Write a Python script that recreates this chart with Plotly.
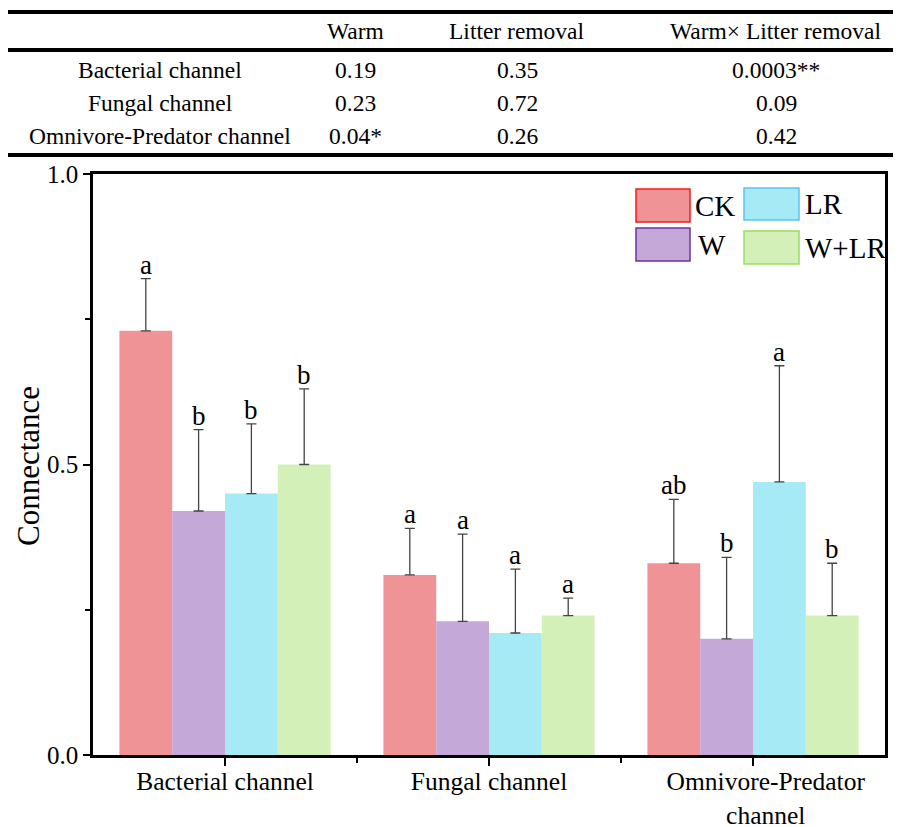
import plotly.graph_objects as go

categories = ["Bacterial channel", "Fungal channel", "Omnivore-Predator channel"]
cat_labels = ["Bacterial channel", "Fungal channel",
              "&nbsp;&nbsp;&nbsp;&nbsp;Omnivore-Predator<br>&nbsp;&nbsp;&nbsp;&nbsp;channel"]
series_names = ["CK", "W", "LR", "W+LR"]
ck = [0.73, 0.31, 0.33]
w = [0.42, 0.23, 0.20]
lr = [0.45, 0.21, 0.47]
wlr = [0.50, 0.24, 0.24]
ck_upper = [0.82, 0.39, 0.44]
w_upper = [0.56, 0.38, 0.34]
lr_upper = [0.57, 0.32, 0.67]
wlr_upper = [0.63, 0.27, 0.33]
ck_letters = ["a", "a", "ab"]
w_letters = ["b", "a", "b"]
lr_letters = ["b", "a", "a"]
wlr_letters = ["b", "a", "b"]

table_header = ["Warm", "Litter removal", "Warm× Litter removal"]
table_rows = ["Bacterial channel", "Fungal channel", "Omnivore-Predator channel"]
warm_p = ["0.19", "0.23", "0.04*"]
litter_p = ["0.35", "0.72", "0.26"]
inter_p = ["0.0003**", "0.09", "0.42"]

fills = ["#F09397", "#C4A8D8", "#A6EAF5", "#D3F0B8"]
borders = ["#F21D1D", "#7030A0", "#5CC4F2", "#99DE5E"]

values = [ck, w, lr, wlr]
uppers = [ck_upper, w_upper, lr_upper, wlr_upper]
letters = [ck_letters, w_letters, lr_letters, wlr_letters]

W, H = 900, 827
L, R, T, B = 93, 885, 174, 755
FONT = "Liberation Serif, Times New Roman, serif"


def px(x):
    return (x - L) / (R - L)


def py(y):
    return (B - y) / (B - T)


fig = go.Figure()
for i, name in enumerate(series_names):
    err = [u - v for u, v in zip(uppers[i], values[i])]
    fig.add_trace(go.Bar(
        x=categories, y=values[i], name=name,
        marker=dict(color=fills[i], line=dict(width=0)),
        error_y=dict(type="data", array=err, arrayminus=[0] * len(err), symmetric=False,
                     color="#444444", thickness=1.3, width=5),
        showlegend=False,
    ))

bar_px = 0.2 * (R - L) / 3.0
annotations = []
for i in range(4):
    for j, c in enumerate(categories):
        annotations.append(dict(
            x=c, y=uppers[i][j], xref="x", yref="y", text=letters[i][j],
            showarrow=False, xanchor="center", yanchor="bottom", xshift=(i - 1.5) * bar_px, yshift=-3,
            font=dict(family=FONT, size=27, color="black")))

# custom legend
leg_boxes = [(636, 189, 690, 222), (636, 228, 690, 261), (744, 188, 799, 220), (744, 231, 799, 264)]
leg_text_x = [693, 696, 803, 803]
shapes = []
for k in range(4):
    x0, y0, x1, y1 = leg_boxes[k]
    shapes.append(dict(type="rect", xref="paper", yref="paper", x0=px(x0), x1=px(x1), y0=py(y0), y1=py(y1),
                       fillcolor=fills[k], line=dict(color=borders[k], width=1.5)))
    annotations.append(dict(x=px(leg_text_x[k]), y=py((y0 + y1) / 2), xref="paper", yref="paper",
                            text=series_names[k], showarrow=False, xanchor="left", yanchor="middle",
                            font=dict(family=FONT, size=29, color="black")))

# table lines
for ly in [12, 50, 155]:
    shapes.append(dict(type="line", xref="paper", yref="paper", x0=px(8), x1=px(893), y0=py(ly), y1=py(ly),
                       line=dict(color="black", width=4)))

TFS = 23.5
col_x = [355, 517, 776]
for cx, h in zip(col_x, table_header):
    annotations.append(dict(x=px(cx), y=py(31), xref="paper", yref="paper", text=h, showarrow=False,
                            xanchor="center", yanchor="middle",
                            font=dict(family=FONT, size=TFS, color="black")))
row_y = [70, 103, 136]
for r, name in enumerate(table_rows):
    annotations.append(dict(x=px(160), y=py(row_y[r]), xref="paper", yref="paper", text=name, showarrow=False,
                            xanchor="center", yanchor="middle",
                            font=dict(family=FONT, size=TFS, color="black")))
    for cx, col in zip(col_x, [warm_p, litter_p, inter_p]):
        annotations.append(dict(x=px(cx), y=py(row_y[r]), xref="paper", yref="paper", text=col[r],
                                showarrow=False, xanchor="center", yanchor="middle",
                                font=dict(family=FONT, size=TFS, color="black")))

# y-axis title
annotations.append(dict(x=px(28), y=py(466), xref="paper", yref="paper", text="Connectance",
                        showarrow=False, textangle=-90, xanchor="center", yanchor="middle",
                        font=dict(family=FONT, size=31, color="black")))

fig.update_layout(
    template="none",
    width=W, height=H,
    margin=dict(l=L, r=W - R, t=T, b=H - B, pad=0),
    paper_bgcolor="white", plot_bgcolor="white",
    barmode="group", bargap=0.2, bargroupgap=0,
    font=dict(family=FONT, color="black"),
    annotations=annotations, shapes=shapes,
    showlegend=False,
)
fig.update_xaxes(
    automargin=False,
    range=[-0.5, 2.5], tickmode="array", tickvals=[0, 1, 2], ticktext=cat_labels,
    ticks="outside", ticklen=8, tickwidth=2, tickcolor="black",
    ticklabelstandoff=-6,
    minor=dict(tickvals=[0.5, 1.5], ticks="outside", ticklen=5, tickwidth=2, tickcolor="black"),
    showline=True, linecolor="black", linewidth=2.5, mirror=True,
    showgrid=False, zeroline=False,
    tickfont=dict(family=FONT, size=25.5, color="black"),
)
fig.update_yaxes(
    automargin=False,
    range=[0, 1.0], tickvals=[0, 0.5, 1.0], ticktext=["0.0", "0.5", "1.0"],
    ticks="outside", ticklen=7, tickwidth=2, tickcolor="black",
    minor=dict(tickvals=[0.25, 0.75], ticks="outside", ticklen=5, tickwidth=2, tickcolor="black"),
    showline=True, linecolor="black", linewidth=2.5, mirror=True,
    showgrid=False, zeroline=False,
    tickfont=dict(family=FONT, size=25, color="black"),
)

fig.write_html("out.html", config={"displayModeBar": False},
               post_script="document.body.style.margin='0px';document.body.style.overflow='hidden';")
